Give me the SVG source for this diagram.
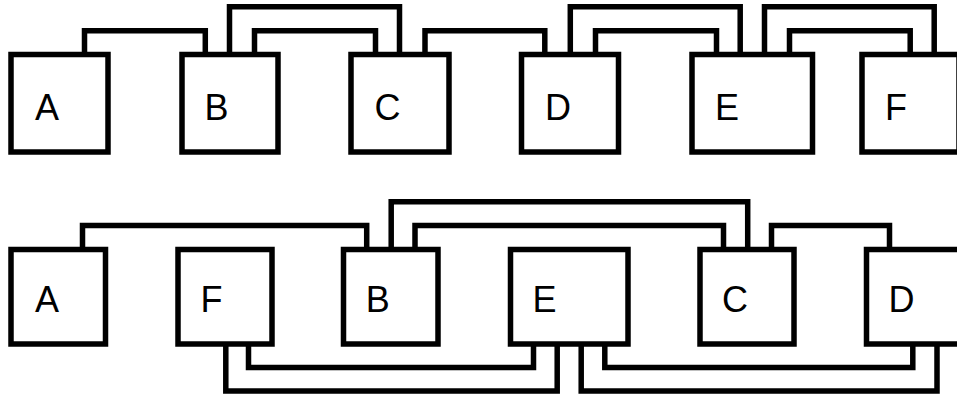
<svg xmlns="http://www.w3.org/2000/svg" width="957" height="398" viewBox="0 0 957 398">
<style>
.box{fill:#fff;stroke:#000;stroke-width:5.5}
.lbl{font-family:"Liberation Sans",Arial,sans-serif;font-size:36px;fill:#000}
.c{fill:none;stroke:#000;stroke-width:5.5;stroke-linejoin:miter;stroke-linecap:butt}
</style>
<rect width="957" height="398" fill="#fff"/>
<g id="connectors">
<path class="c" d="M84.5,54.5 V30.8 H205.3 V54.5"/>
<path class="c" d="M229.5,54.5 V6.7 H399.5 V54.5"/>
<path class="c" d="M254.5,54.5 V30.8 H375.5 V54.5"/>
<path class="c" d="M425,54.5 V30.8 H544.8 V54.5"/>
<path class="c" d="M570.3,54.5 V6.7 H740.2 V54.5"/>
<path class="c" d="M595.5,54.5 V30.8 H716.5 V54.5"/>
<path class="c" d="M764.5,54.5 V6.7 H934.2 V54.5"/>
<path class="c" d="M789.5,54.5 V30.8 H910.2 V54.5"/>
<path class="c" d="M82.5,249.5 V225.5 H366.7 V249.5"/>
<path class="c" d="M391.2,249.5 V201.7 H747.7 V249.5"/>
<path class="c" d="M415,249.5 V225.5 H723.5 V249.5"/>
<path class="c" d="M771.5,249.5 V225.5 H889.5 V249.5"/>
<path class="c" d="M225.8,344 V391 H557.2 V344"/>
<path class="c" d="M248.5,344 V367.5 H533.5 V344"/>
<path class="c" d="M581.2,344 V391 H937 V344"/>
<path class="c" d="M604.8,344 V367.5 H912.8 V344"/>
</g>
<g id="top-A"><rect class="box" x="11" y="54.5" width="97" height="97.5"/><text class="lbl" x="35" y="120">A</text></g>
<g id="top-B"><rect class="box" x="182" y="54.5" width="96" height="97.5"/><text class="lbl" x="204.5" y="120">B</text></g>
<g id="top-C"><rect class="box" x="351" y="54.5" width="98" height="97.5"/><text class="lbl" x="374.5" y="120">C</text></g>
<g id="top-D"><rect class="box" x="521.5" y="54.5" width="97" height="97.5"/><text class="lbl" x="545" y="120">D</text></g>
<g id="top-E"><rect class="box" x="692" y="54.5" width="120.5" height="97.5"/><text class="lbl" x="715" y="120">E</text></g>
<g id="top-F"><rect class="box" x="862" y="54.5" width="97" height="97.5"/><text class="lbl" x="885" y="120">F</text></g>
<g id="bot-A"><rect class="box" x="11" y="249.5" width="94.5" height="94.5"/><text class="lbl" x="35" y="311.7">A</text></g>
<g id="bot-F"><rect class="box" x="178" y="249.5" width="94" height="94.5"/><text class="lbl" x="200.5" y="311.7">F</text></g>
<g id="bot-B"><rect class="box" x="343.5" y="249.5" width="94.5" height="94.5"/><text class="lbl" x="365.7" y="311.7">B</text></g>
<g id="bot-E"><rect class="box" x="510.5" y="249.5" width="117.5" height="94.5"/><text class="lbl" x="532.5" y="311.7">E</text></g>
<g id="bot-C"><rect class="box" x="700" y="249.5" width="94" height="94.5"/><text class="lbl" x="722" y="311.7">C</text></g>
<g id="bot-D"><rect class="box" x="866.5" y="249.5" width="94" height="94.5"/><text class="lbl" x="888.5" y="311.7">D</text></g>
</svg>
